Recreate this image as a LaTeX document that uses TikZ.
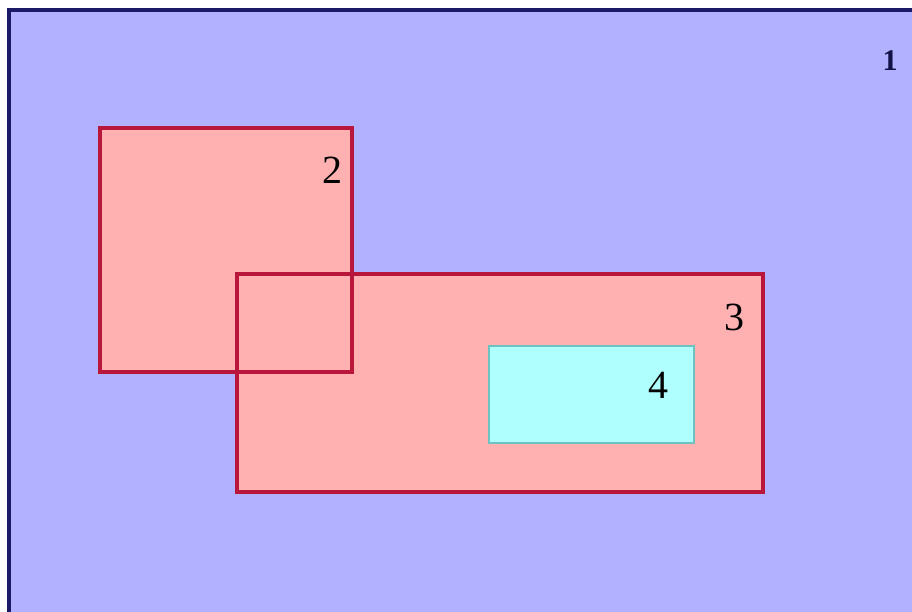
\documentclass[tikz,border=0pt]{standalone}
\usepackage{fontspec}
\setmainfont{Liberation Serif}

\definecolor{areablue}{HTML}{B1B1FF}
\definecolor{edgenavy}{HTML}{1A1A66}
\definecolor{areapink}{HTML}{FFB1B1}
\definecolor{edgered}{HTML}{B8163A}
\definecolor{areacyan}{HTML}{B0FFFF}
\definecolor{edgeteal}{HTML}{6EC2C0}

\begin{document}
\begin{tikzpicture}[x=1pt, y=-1pt, thick]
  \useasboundingbox (0, 0) rectangle (912, 611);
  \clip (0, 0) rectangle (912, 611);

  % outer region 1
  \draw[fill=areablue, draw=edgenavy, line width=3.4pt] (9, 10) rectangle (930, 630);

  % fills of 2, 3 and 4
  \fill[areapink] (100, 128) rectangle (352, 372);
  \fill[areapink] (237, 274) rectangle (763, 492);
  \draw[fill=areacyan, draw=edgeteal, line width=2.4pt] (489, 346) rectangle (694, 443);

  % borders of 2 and 3, both visible in the overlap
  \draw[edgered, line width=3.2pt] (100, 128) rectangle (352, 372);
  \draw[edgered, line width=3.2pt] (237, 274) rectangle (763, 492);

  \node[text=edgenavy!70!black, font=\fontsize{30}{32}\selectfont\bfseries] (one) at (890, 61) {1};
  \node[font=\fontsize{40}{42}\selectfont] (two) at (332, 170) {2};
  \node[font=\fontsize{40}{42}\selectfont] (three) at (734, 317) {3};
  \node[font=\fontsize{40}{42}\selectfont] (four) at (658, 385) {4};
\end{tikzpicture}
\end{document}
